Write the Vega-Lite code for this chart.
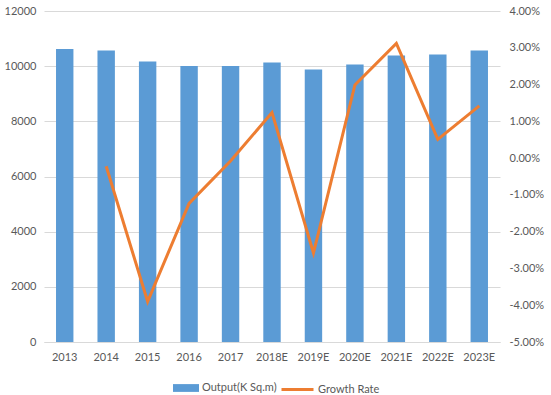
{
  "$schema": "https://vega.github.io/schema/vega-lite/v6.json",
  "width": 456,
  "height": 331,
  "autosize": {"type": "none"},
  "padding": {"left": 44, "top": 11, "right": 51, "bottom": 53},
  "background": "white",
  "config": {
    "font": "Lato",
    "view": {"stroke": null},
    "axis": {"labelFont": "Lato", "labelFontSize": 11, "labelColor": "#595959"},
    "legend": {"labelFont": "Lato", "labelFontSize": 11, "labelColor": "#595959"}
  },
  "data": {
    "values": [
      {"year": "2013", "output": 10620, "growth": null},
      {"year": "2014", "output": 10570, "growth": -0.0022},
      {"year": "2015", "output": 10170, "growth": -0.039},
      {"year": "2016", "output": 10010, "growth": -0.0123},
      {"year": "2017", "output": 10010, "growth": -0.0008},
      {"year": "2018E", "output": 10130, "growth": 0.0124},
      {"year": "2019E", "output": 9880, "growth": -0.0258},
      {"year": "2020E", "output": 10060, "growth": 0.0199},
      {"year": "2021E", "output": 10390, "growth": 0.0312},
      {"year": "2022E", "output": 10420, "growth": 0.0051},
      {"year": "2023E", "output": 10570, "growth": 0.0142}
    ]
  },
  "layer": [
    {
      "mark": {"type": "bar"},
      "encoding": {
        "x": {
          "field": "year", "type": "nominal", "sort": null,
          "scale": {"paddingInner": 0.58, "paddingOuter": 0.29},
          "axis": {"title": null, "labelAngle": 0, "domainColor": "#D9D9D9", "ticks": false, "labelPadding": 9}
        },
        "y": {
          "field": "output", "type": "quantitative",
          "scale": {"domain": [0, 12000], "nice": false},
          "axis": {"title": null, "format": "d", "values": [0, 2000, 4000, 6000, 8000, 10000, 12000], "domain": false, "ticks": false, "gridColor": "#D9D9D9", "labelPadding": 8}
        },
        "color": {
          "datum": "Output(K Sq.m)",
          "scale": {"range": ["#5B9BD5"]},
          "legend": {
            "title": null, "orient": "none", "legendX": 129, "legendY": 364, "padding": 0,
            "symbolType": "M-1,-0.3H1V0.3H-1Z", "symbolSize": 676, "symbolStrokeWidth": 0, "labelOffset": 3
          }
        }
      }
    },
    {
      "mark": {"type": "line", "strokeWidth": 3},
      "encoding": {
        "x": {"field": "year", "type": "nominal", "sort": null},
        "y": {
          "field": "growth", "type": "quantitative",
          "scale": {"domain": [-0.05, 0.04], "nice": false},
          "axis": {
            "title": null, "orient": "right", "format": ".2%",
            "values": [-0.05, -0.04, -0.03, -0.02, -0.01, 0, 0.01, 0.02, 0.03, 0.04],
            "labelExpr": "replace(datum.label, '\u2212', '-')",
            "grid": false, "domain": false, "ticks": false, "labelPadding": 9
          }
        },
        "stroke": {
          "datum": "Growth Rate",
          "scale": {"range": ["#ED7D31"]},
          "legend": {
            "title": null, "orient": "none", "legendX": 236, "legendY": 361, "padding": 0,
            "symbolType": "stroke", "symbolSize": 1024, "symbolStrokeWidth": 3, "labelOffset": 3
          }
        }
      }
    }
  ],
  "resolve": {"scale": {"y": "independent"}}
}
